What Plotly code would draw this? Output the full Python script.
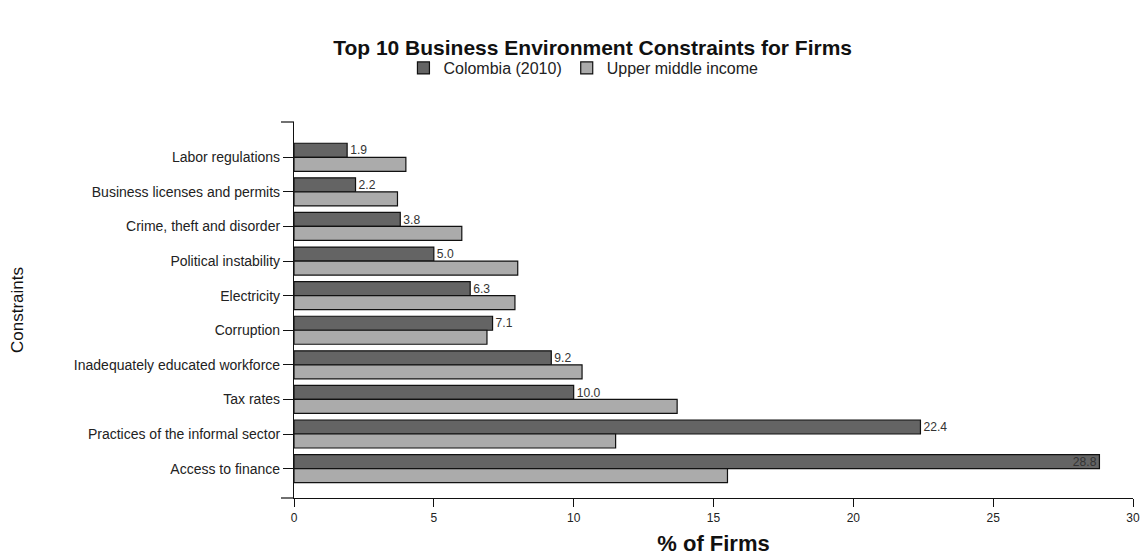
import plotly.graph_objects as go

# Constraints listed from top to bottom of the chart
constraints = [
    "Labor regulations",
    "Business licenses and permits",
    "Crime, theft and disorder",
    "Political instability",
    "Electricity",
    "Corruption",
    "Inadequately educated workforce",
    "Tax rates",
    "Practices of the informal sector",
    "Access to finance",
]
colombia_2010 = [1.9, 2.2, 3.8, 5.0, 6.3, 7.1, 9.2, 10.0, 22.4, 28.8]
upper_middle_income = [4.0, 3.7, 6.0, 8.0, 7.9, 6.9, 10.3, 13.7, 11.5, 15.5]
x_ticks = [0, 5, 10, 15, 20, 25, 30]

font_family = "Liberation Sans, Arial, sans-serif"

# the largest value sits inside its bar, the rest just past the bar end
label_positions = ["inside" if v > 25 else "outside" for v in colombia_2010]

fig = go.Figure()
fig.add_trace(go.Bar(
    name="Colombia (2010)",
    y=constraints,
    x=colombia_2010,
    orientation="h",
    marker=dict(color="#646464", line=dict(color="#111111", width=1.2)),
    text=[f"{v:.1f}" for v in colombia_2010],
    textposition=label_positions,
    insidetextanchor="end",
    textfont=dict(family=font_family, size=13, color="#333333"),
    cliponaxis=False,
))
fig.add_trace(go.Bar(
    name="Upper middle income",
    y=constraints,
    x=upper_middle_income,
    orientation="h",
    marker=dict(color="#ababab", line=dict(color="#111111", width=1.2)),
))

fig.update_layout(
    width=1144,
    height=556,
    margin=dict(l=294, r=11, t=122, b=58),
    paper_bgcolor="white",
    plot_bgcolor="white",
    barmode="group",
    bargap=0.19,
    bargroupgap=0.0,
    uniformtext=dict(minsize=12, mode="show"),
    font=dict(family=font_family, color="#222222"),
    title=dict(
        text="<b>Top 10 Business Environment Constraints for Firms</b>",
        x=0.518, xref="container", xanchor="center",
        y=1 - 48 / 556, yref="container", yanchor="middle",
        font=dict(family=font_family, size=21, color="#111111"),
    ),
    legend=dict(
        orientation="h",
        xref="container", x=0.51, xanchor="center",
        yref="container", y=1 - 68 / 556, yanchor="middle",
        font=dict(family=font_family, size=16, color="#222222"),
        itemwidth=30,
        traceorder="normal",
    ),
    showlegend=True,
)

fig.update_xaxes(
    range=[0, 30],
    tickvals=x_ticks,
    ticktext=[str(t) for t in x_ticks],
    showline=True, linecolor="#111111", linewidth=1.2,
    ticks="outside", ticklen=8, tickcolor="#111111",
    showgrid=False, zeroline=False,
    automargin=False,
    tickfont=dict(family=font_family, size=12, color="#222222"),
    title=dict(text="<b>% of Firms</b>", standoff=16,
               font=dict(family=font_family, size=22, color="#111111")),
)

fig.update_yaxes(
    categoryorder="array",
    categoryarray=constraints,
    range=[len(constraints) - 1 + 0.85, -1.02],
    showline=True, linecolor="#111111", linewidth=1.2,
    ticks="outside", ticklen=10, tickcolor="#111111",
    showgrid=False, zeroline=False,
    automargin=False,
    tickfont=dict(family=font_family, size=14, color="#222222"),
    title=dict(text="Constraints", standoff=45,
               font=dict(family=font_family, size=17, color="#111111")),
)

# short caps at both ends of the category axis
for yp in (0, 1):
    fig.add_shape(type="line", xref="paper", yref="paper",
                  x0=-13 / 839, x1=0, y0=yp, y1=yp,
                  line=dict(color="#111111", width=1.2))

fig.write_html("out.html")
